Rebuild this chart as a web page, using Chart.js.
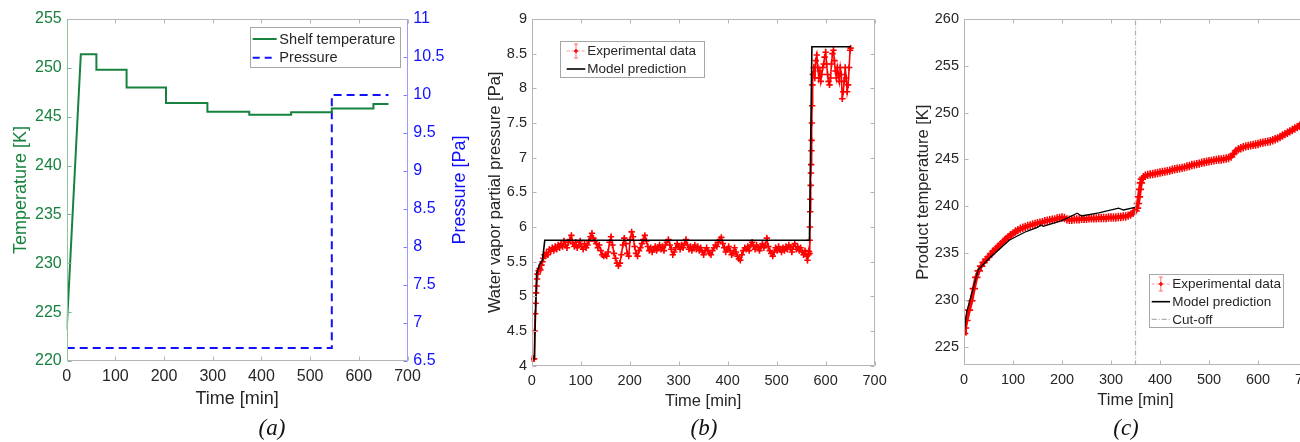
<!DOCTYPE html>
<html><head><meta charset="utf-8">
<script src="https://cdn.jsdelivr.net/npm/chart.js@4.4.1/dist/chart.umd.min.js"></script>
<style>
html,body{margin:0;padding:0;background:#fff;}
#wrap{position:relative;width:1300px;height:442px;overflow:hidden;background:#fff;}
canvas{position:absolute;top:0;}
.lab{position:absolute;top:415px;line-height:26px;font:italic 23px "Liberation Serif","Times New Roman",serif;color:#111;transform:translateX(-50%);}
</style></head><body>
<div id="wrap">
<canvas id="ca" width="480" height="442" style="left:0px"></canvas>
<canvas id="cb" width="423" height="442" style="left:470px"></canvas>
<canvas id="cc" width="435" height="442" style="left:890px"></canvas>
<div class="lab" style="left:272px">(a)</div>
<div class="lab" style="left:704px">(b)</div>
<div class="lab" style="left:1126px">(c)</div>
</div>
<script>
// ---------------- DATA ----------------
// Panel (a)
const shelfTime = [0, 29, 61, 61, 123, 123, 204, 204, 289, 289, 375, 375, 461, 461, 544.5, 544.5, 630, 630, 661];
const shelfTemp = [223.2, 251.4, 251.4, 249.8, 249.8, 248.0, 248.0, 246.4, 246.4, 245.5, 245.5, 245.2, 245.2, 245.45, 245.45, 245.85, 245.85, 246.3, 246.3];
const pressTime = [0, 544.5, 544.5, 661];
const pressVal  = [6.67, 6.67, 10, 10];
const aXTicks = [0, 100, 200, 300, 400, 500, 600, 700];
const aYTicks = [220, 225, 230, 235, 240, 245, 250, 255];
const aY2Ticks = [6.5, 7, 7.5, 8, 8.5, 9, 9.5, 10, 10.5, 11];

// Panel (b)
const modelBTime = [0, 5.3, 10, 16.7, 22, 26.7, 567, 572, 651.5];
const modelBVal  = [4.1, 4.1, 5.33, 5.47, 5.52, 5.81, 5.81, 8.6, 8.6];
const expBTime = [
 0,1,2,3,4,5,6,7,8,9,10,11,12,
 14,16,18,20,22,24,26,28,
 30,33,36,39,42,45,48,51,54,57,
 60,63,66,69,72,75,78,81,84,87,
 90,93,96,99,102,105,108,111,114,117,
 120,123,126,129,132,135,138,141,144,147,
 150,153,156,159,162,165,168,171,174,177,
 180,183,186,189,192,195,198,201,204,207,
 210,213,216,219,222,225,228,231,234,237,
 240,243,246,249,252,255,258,261,264,267,
 270,273,276,279,282,285,288,291,294,297,
 300,303,306,309,312,315,318,321,324,327,
 330,333,336,339,342,345,348,351,354,357,
 360,363,366,369,372,375,378,381,384,387,
 390,393,396,399,402,405,408,411,414,417,
 420,423,426,429,432,435,438,441,444,447,
 450,453,456,459,462,465,468,471,474,477,
 480,483,486,489,492,495,498,501,504,507,
 510,513,516,519,522,525,528,531,534,537,
 540,543,546,549,552,555,558,561,
 563,565,566,567,
 567.5,568,568.5,569,569.5,570,570.5,571,571.5,572,572.5,573,
 574,576,578,580,582,584,586,588,590,592,
 594,596,598,600,602,604,606,608,610,612,
 614,616,618,620,622,624,626,628,630,632,
 634,636,638,640,642,644,646,648,650,651];
const expBVal = [
 4.1,4.1,4.1,4.1,4.1,4.1,4.5,4.75,4.9,5.05,5.15,5.25,5.32,
 5.37,5.40,5.38,5.45,5.50,5.55,5.60,5.58,
 5.63,5.60,5.68,5.65,5.70,5.66,5.72,5.68,5.74,5.70,
 5.76,5.72,5.80,5.74,5.70,5.78,5.82,5.88,5.76,5.72,
 5.78,5.70,5.74,5.80,5.72,5.68,5.76,5.70,5.74,5.80,
 5.86,5.91,5.84,5.80,5.76,5.70,5.74,5.66,5.60,5.58,
 5.60,5.58,5.64,5.78,5.86,5.74,5.62,5.55,5.48,5.44,
 5.48,5.60,5.74,5.84,5.76,5.62,5.58,5.82,5.93,5.86,
 5.72,5.62,5.58,5.66,5.70,5.76,5.82,5.88,5.80,5.72,
 5.66,5.70,5.64,5.68,5.72,5.66,5.70,5.74,5.68,5.72,
 5.66,5.74,5.78,5.82,5.74,5.68,5.60,5.64,5.70,5.76,
 5.72,5.68,5.74,5.70,5.76,5.82,5.74,5.68,5.72,5.66,
 5.70,5.74,5.68,5.72,5.66,5.70,5.64,5.60,5.66,5.70,
 5.66,5.62,5.60,5.66,5.70,5.74,5.72,5.78,5.82,5.85,
 5.76,5.70,5.64,5.68,5.72,5.66,5.60,5.62,5.70,5.64,
 5.58,5.54,5.52,5.60,5.66,5.70,5.68,5.72,5.66,5.74,
 5.78,5.72,5.68,5.74,5.70,5.66,5.72,5.76,5.70,5.74,
 5.84,5.72,5.66,5.62,5.58,5.64,5.70,5.66,5.72,5.68,
 5.64,5.70,5.66,5.72,5.68,5.74,5.70,5.64,5.72,5.76,
 5.68,5.72,5.66,5.70,5.64,5.60,5.66,5.58,
 5.52,5.60,5.65,5.62,
 5.81,6.00,6.22,6.40,6.60,6.78,6.90,7.10,7.25,7.50,7.75,8.05,
 8.20,8.30,8.15,8.40,8.48,8.30,8.15,8.25,8.10,8.20,
 8.30,8.35,8.45,8.52,8.35,8.20,8.10,8.05,8.15,8.35,
 8.50,8.55,8.40,8.25,8.15,8.30,8.20,8.10,8.30,8.20,
 7.85,7.95,8.10,8.30,8.15,7.95,8.05,8.30,8.55,8.58];
const bXTicks = [0, 100, 200, 300, 400, 500, 600, 700];
const bYTicks = [4, 4.5, 5, 5.5, 6, 6.5, 7, 7.5, 8, 8.5, 9];

// Panel (c)
const expCTime = [
 0,2,5,10,15,20,25,30,35,40,45,50,55,60,65,70,75,80,85,90,
 95,100,105,110,115,120,125,130,135,140,145,150,155,160,165,170,175,180,185,190,
 195,200,205,210,215,220,225,230,235,240,245,250,255,260,265,270,275,280,285,290,
 295,300,305,310,315,320,325,330,335,340,345,350,353,355,357,359,361,363,366,370,
 375,380,385,390,395,400,405,410,415,420,425,430,435,440,445,450,455,460,465,470,
 475,480,485,490,495,500,505,510,515,520,525,530,535,540,545,550,555,560,565,570,
 575,580,585,590,595,600,605,610,615,620,625,630,635,640,645,650,655,660,665,670,
 675,680,685,690,695,700];
const expCVal = [
 226.4,227.0,227.8,228.9,229.9,231.2,232.4,233.1,233.6,234.0,234.3,234.6,234.9,235.2,235.45,235.7,235.95,236.2,236.45,236.7,
 236.9,237.1,237.3,237.45,237.6,237.7,237.8,237.9,237.95,238.05,238.1,238.2,238.25,238.3,238.4,238.45,238.5,238.55,238.6,238.7,
 238.75,238.8,238.75,238.6,238.55,238.55,238.6,238.6,238.6,238.65,238.65,238.65,238.7,238.7,238.7,238.7,238.75,238.75,238.75,238.75,
 238.8,238.8,238.8,238.8,238.85,238.85,238.9,238.9,239.0,239.1,239.3,239.5,239.8,240.3,241.0,241.8,242.5,242.9,243.1,243.25,
 243.35,243.4,243.45,243.5,243.55,243.6,243.65,243.7,243.75,243.8,243.9,243.95,244.0,244.05,244.1,244.15,244.25,244.3,244.4,244.45,
 244.5,244.55,244.65,244.7,244.75,244.8,244.85,244.9,244.95,245.0,245.0,245.05,245.1,245.15,245.3,245.6,245.9,246.1,246.2,246.3,
 246.4,246.45,246.5,246.55,246.6,246.65,246.75,246.8,246.85,246.9,246.95,247.05,247.15,247.25,247.4,247.55,247.7,247.85,248.0,248.15,
 248.3,248.45,248.6,248.8,248.95,249.1];
const modelCTime = [0, 5.4, 29, 52.6, 93, 126.8, 150, 157, 162, 201, 231, 240, 275, 315.5, 325.6, 349];
const modelCVal  = [226.4, 228.7, 233.2, 234.5, 236.4, 237.3, 237.75, 238.0, 237.85, 238.5, 239.25, 238.96, 239.3, 239.8, 239.6, 239.89];
const cutoffTime = [350, 350];
const cutoffVal  = [223, 260];
const cXTicks = [0, 100, 200, 300, 400, 500, 600, 700];
const cYTicks = [225, 230, 235, 240, 245, 250, 255, 260];

// ---------------- STYLE ----------------
const FONT = '"Liberation Sans", Arial, Helvetica, sans-serif';
const GREEN = '#17823f', BLUE = '#1010ff', RED = '#ff0000', TXT = '#262626';
const FRAME = '#b5b5b5';
Chart.defaults.font.family = FONT;
Chart.defaults.color = TXT;

const pts = (xs, ys) => xs.map((x, i) => ({x, y: ys[i]}));
const fmt = v => String(Number(v.toFixed(3)));

function scale(o) {
  return {
    type: 'linear', position: o.pos, min: o.min, max: o.max,
    grid: {display: false, drawTicks: false}, border: {display: false},
    ticks: {color: o.color || TXT, font: {size: o.fs}, padding: o.pad, autoSkip: false, maxRotation: 0, callback: v => fmt(v)},
    title: o.title ? {display: true, text: o.title, color: o.tcolor || TXT, font: {size: o.tfs}, padding: o.tpad} : {display: false},
    afterBuildTicks: s => { s.ticks = o.ticks.map(v => ({value: v})); },
    afterFit: s => { if (s.isHorizontal()) s.height = o.size; else s.width = o.size; }
  };
}

const frame = {
  id: 'frame',
  afterDatasetsDraw(chart, args, o) {
    const {ctx, chartArea: a} = chart;
    const L = 4;
    ctx.save();
    ctx.lineWidth = 1;
    const ln = (x1, y1, x2, y2, c) => { ctx.strokeStyle = c; ctx.beginPath(); ctx.moveTo(x1, y1); ctx.lineTo(x2, y2); ctx.stroke(); };
    const l = Math.round(a.left) + 0.5, r = Math.round(a.right) - 0.5, t = Math.round(a.top) + 0.5, b = Math.round(a.bottom) - 0.5;
    o.sets.forEach(st => {
      const s = chart.scales[st.scale];
      s.ticks.forEach(tk => {
        const p = Math.round(s.getPixelForValue(tk.value)) + 0.5;
        st.sides.forEach(side => {
          if (side === 'bottom') ln(p, b, p, b - L, st.color);
          if (side === 'top') ln(p, t, p, t + L, st.color);
          if (side === 'left') ln(l, p, l + L, p, st.color);
          if (side === 'right') ln(r, p, r - L, p, st.color);
        });
      });
    });
    ln(l, t, r, t, o.top); ln(l, b, r, b, o.bottom);
    ln(l, t, l, b, o.left); ln(r, t, r, b, o.right);
    ctx.restore();
  }
};

const boxLegend = {
  id: 'boxLegend',
  afterDraw(chart, args, o) {
    const ctx = chart.ctx;
    ctx.save();
    ctx.fillStyle = '#fff';
    ctx.fillRect(o.x, o.y, o.w, o.h);
    ctx.strokeStyle = '#a6a6a6'; ctx.lineWidth = 1;
    ctx.strokeRect(Math.round(o.x) + 0.5, Math.round(o.y) + 0.5, Math.round(o.w), Math.round(o.h));
    ctx.font = o.size + 'px ' + FONT;
    ctx.textBaseline = 'middle'; ctx.textAlign = 'left';
    o.items.forEach((it, i) => {
      const ds = chart.data.datasets[it.ds];
      const y = o.rows[i];
      const x1 = o.s1, x2 = o.s2, xm = (x1 + x2) / 2;
      ctx.setLineDash([]);
      if (it.kind === 'solid' || it.kind === 'dash' || it.kind === 'dashdot') {
        ctx.strokeStyle = ds.borderColor; ctx.lineWidth = it.lw || ds.borderWidth;
        if (it.kind === 'dash') ctx.setLineDash([7, 5]);
        if (it.kind === 'dashdot') ctx.setLineDash([5, 2, 1, 2]);
        ctx.beginPath(); ctx.moveTo(x1, y); ctx.lineTo(x2, y); ctx.stroke();
      } else if (it.kind === 'err') {
        ctx.strokeStyle = '#ff9a9a'; ctx.lineWidth = 1; ctx.setLineDash([3, 2]);
        ctx.beginPath(); ctx.moveTo(x1, y); ctx.lineTo(x2, y); ctx.stroke();
        ctx.setLineDash([]);
        ctx.strokeStyle = '#ff6a6a';
        ctx.beginPath(); ctx.moveTo(xm, y - 7); ctx.lineTo(xm, y + 7);
        ctx.moveTo(xm - 2, y - 7); ctx.lineTo(xm + 2, y - 7);
        ctx.moveTo(xm - 2, y + 7); ctx.lineTo(xm + 2, y + 7); ctx.stroke();
        ctx.strokeStyle = RED; ctx.lineWidth = 1.4;
        ctx.beginPath(); ctx.moveTo(xm - 2, y); ctx.lineTo(xm + 2, y); ctx.moveTo(xm, y - 2); ctx.lineTo(xm, y + 2); ctx.stroke();
      }
      ctx.fillStyle = TXT;
      ctx.fillText(ds.label, o.tx, y + 0.5);
    });
    ctx.restore();
  }
};

const sideTitle = {
  id: 'sideTitle',
  afterDraw(chart, args, o) {
    if (!o || !o.text) return;
    const ctx = chart.ctx, a = chart.chartArea;
    ctx.save();
    ctx.translate(o.x, (a.top + a.bottom) / 2);
    ctx.rotate(-Math.PI / 2);
    ctx.font = o.size + 'px ' + FONT;
    ctx.fillStyle = o.color; ctx.textAlign = 'center'; ctx.textBaseline = 'middle';
    ctx.fillText(o.text, 0, 0);
    ctx.restore();
  }
};

const base = {responsive: false, animation: false, events: [], parsing: true};

// ---------------- (a) ----------------
new Chart(document.getElementById('ca'), {
  type: 'line',
  data: {datasets: [
    {label: 'Shelf temperature', data: pts(shelfTime, shelfTemp), yAxisID: 'y', borderColor: GREEN, borderWidth: 2, pointRadius: 0, tension: 0, fill: false},
    {label: 'Pressure', data: pts(pressTime, pressVal), yAxisID: 'y2', borderColor: BLUE, borderWidth: 2, borderDash: [8, 5], pointRadius: 0, tension: 0, fill: false}
  ]},
  options: Object.assign({}, base, {
    layout: {padding: {top: 19, right: 0, bottom: 32.2, left: 0}},
    scales: {
      x: scale({pos: 'bottom', min: 0, max: 700, ticks: aXTicks, fs: 16, pad: 6.4, title: 'Time [min]', tfs: 18, tpad: {top: 0, bottom: 0}, size: 48.8}),
      y: scale({pos: 'left', min: 220, max: 255, ticks: aYTicks, fs: 16, pad: 5, color: GREEN, title: 'Temperature [K]', tcolor: GREEN, tfs: 18, tpad: {top: 10, bottom: 0}, size: 66.7}),
      y2: scale({pos: 'right', min: 6.5, max: 11, ticks: aY2Ticks, fs: 16, pad: 5.8, color: BLUE, size: 72.5})
    },
    plugins: {
      legend: {display: false}, tooltip: {enabled: false},
      frame: {top: FRAME, bottom: FRAME, left: '#8cc79f', right: '#9a9aff',
        sets: [{scale: 'x', sides: ['bottom', 'top'], color: FRAME}, {scale: 'y', sides: ['left'], color: '#6fb887'}, {scale: 'y2', sides: ['right'], color: '#7f7fff'}]},
      boxLegend: {x: 249.7, y: 27.3, w: 149.6, h: 40.4, size: 14.6, s1: 252.7, s2: 276.7, tx: 279.3, rows: [39, 57.7],
        items: [{ds: 0, kind: 'solid'}, {ds: 1, kind: 'dash'}]},
      sideTitle: {text: 'Pressure [Pa]', x: 460, size: 18, color: BLUE}
    }
  }),
  plugins: [frame, boxLegend, sideTitle]
});

// ---------------- (b) ----------------
new Chart(document.getElementById('cb'), {
  type: 'line',
  data: {datasets: [
    {label: 'Model prediction', data: pts(modelBTime, modelBVal), borderColor: '#000', borderWidth: 1.6, pointRadius: 0, tension: 0, fill: false},
    {label: 'Experimental data', data: pts(expBTime, expBVal), borderColor: RED, borderWidth: 1.6, pointStyle: 'cross', pointRadius: 3.2, pointBorderWidth: 1.6, pointBorderColor: RED, tension: 0, fill: false}
  ]},
  options: Object.assign({}, base, {
    layout: {padding: {top: 19, right: 15, bottom: 30.4, left: 0}},
    scales: {
      x: scale({pos: 'bottom', min: 0, max: 700, ticks: bXTicks, fs: 14.5, pad: 6.3, title: 'Time [min]', tfs: 16.5, tpad: {top: 0, bottom: 0}, size: 45.9}),
      y: scale({pos: 'left', min: 4, max: 9, ticks: bYTicks, fs: 14.5, pad: 4.7, title: 'Water vapor partial pressure [Pa]', tfs: 16.5, tpad: {top: 15.1, bottom: 0}, size: 61.7})
    },
    plugins: {
      legend: {display: false}, tooltip: {enabled: false},
      frame: {top: FRAME, bottom: FRAME, left: FRAME, right: FRAME,
        sets: [{scale: 'x', sides: ['bottom', 'top'], color: FRAME}, {scale: 'y', sides: ['left', 'right'], color: FRAME}]},
      boxLegend: {x: 90, y: 41, w: 144.3, h: 36.3, size: 13.5, s1: 96.7, s2: 115.3, tx: 117.3, rows: [51, 69],
        items: [{ds: 1, kind: 'err'}, {ds: 0, kind: 'solid', lw: 1.6}]}
    }
  }),
  plugins: [frame, boxLegend]
});

// ---------------- (c) ----------------
new Chart(document.getElementById('cc'), {
  type: 'line',
  data: {datasets: [
    {label: 'Model prediction', data: pts(modelCTime, modelCVal), borderColor: '#000', borderWidth: 1.3, pointRadius: 0, tension: 0, fill: false},
    {label: 'Cut-off', data: pts(cutoffTime, cutoffVal), borderColor: '#b0b0b0', borderWidth: 1.2, borderDash: [5, 2, 1, 2], pointRadius: 0, fill: false},
    {label: 'Experimental data', data: pts(expCTime, expCVal), borderColor: RED, borderWidth: 4, pointStyle: 'cross', pointRadius: 4.2, pointBorderWidth: 1.6, pointBorderColor: RED, tension: 0, fill: false}
  ]},
  options: Object.assign({}, base, {
    layout: {padding: {top: 19, right: 14.8, bottom: 32.1, left: 0}},
    scales: {
      x: scale({pos: 'bottom', min: 0, max: 700, ticks: cXTicks, fs: 14.5, pad: 5.9, title: 'Time [min]', tfs: 16.5, tpad: {top: 0, bottom: 0}, size: 44.5}),
      y: scale({pos: 'left', min: 223, max: 260, ticks: cYTicks, fs: 14.5, pad: 5, title: 'Product temperature [K]', tfs: 16.5, tpad: {top: 23.1, bottom: 0}, size: 74})
    },
    plugins: {
      legend: {display: false}, tooltip: {enabled: false},
      frame: {top: FRAME, bottom: FRAME, left: FRAME, right: FRAME,
        sets: [{scale: 'x', sides: ['bottom', 'top'], color: FRAME}, {scale: 'y', sides: ['left', 'right'], color: FRAME}]},
      boxLegend: {x: 259.3, y: 274, w: 134, h: 53, size: 13.5, s1: 261.7, s2: 280, tx: 282.3, rows: [284, 301.7, 319.3],
        items: [{ds: 2, kind: 'err'}, {ds: 0, kind: 'solid', lw: 1.6}, {ds: 1, kind: 'dashdot'}]}
    }
  }),
  plugins: [frame, boxLegend]
});
</script>
</body></html>
